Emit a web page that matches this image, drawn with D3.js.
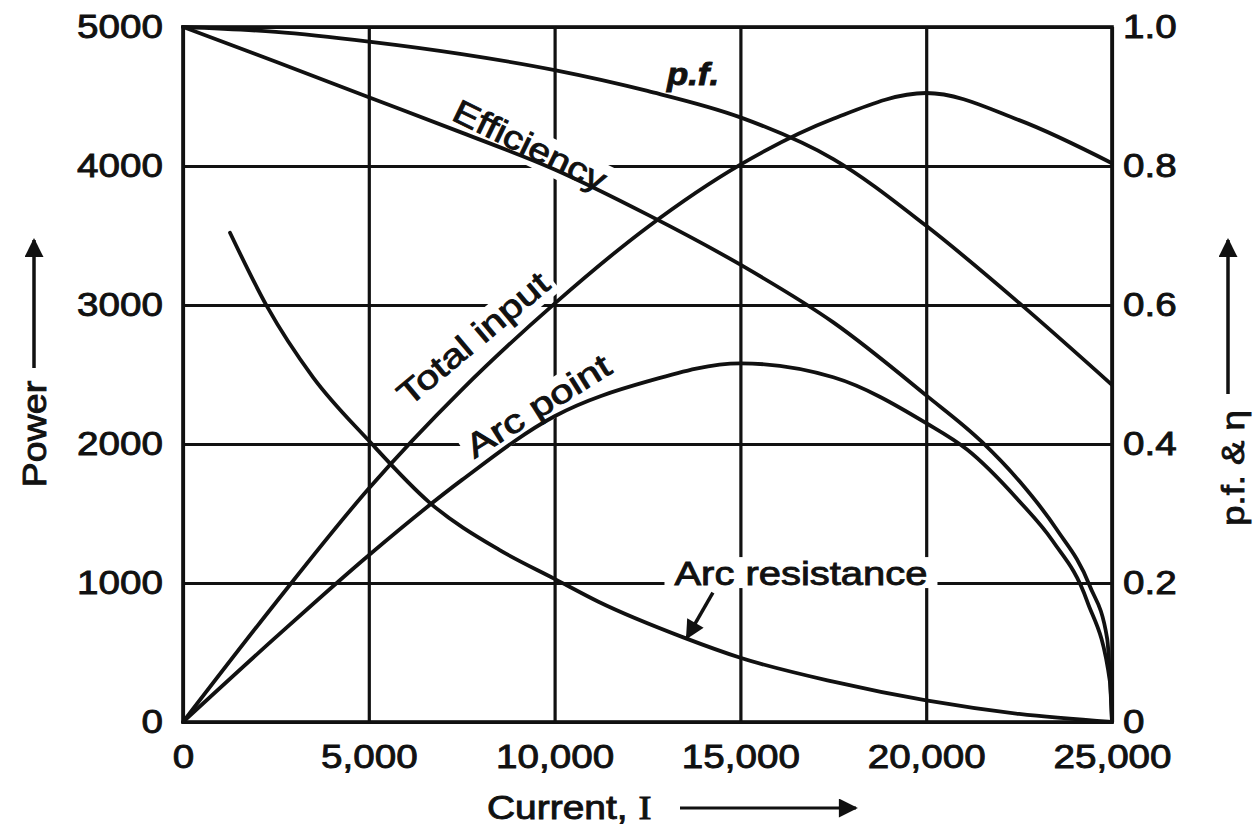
<!DOCTYPE html>
<html><head><meta charset="utf-8">
<script src="https://cdn.jsdelivr.net/npm/d3@7/dist/d3.min.js"></script>
<style>
body{margin:0;background:#fff}
svg text{font-family:"Liberation Sans",Arial,sans-serif;fill:#111;stroke:#111;stroke-width:0.9px}
</style>
</head><body>
<svg id="chart" width="1253" height="831"></svg>
<script>
// ---- data ----
const xTicks = [0, 5000, 10000, 15000, 20000, 25000];
const xTickLabels = ["0", "5,000", "10,000", "15,000", "20,000", "25,000"];
const yTicks = [0, 1000, 2000, 3000, 4000, 5000];
const yTickLabels = ["0", "1000", "2000", "3000", "4000", "5000"];
const y2Ticks = [0, 0.2, 0.4, 0.6, 0.8, 1.0];
const y2TickLabels = ["0", "0.2", "0.4", "0.6", "0.8", "1.0"];

// p.f. (right axis)
const pfCurrent = [0, 2500, 5000, 7500, 10000, 12500, 15000, 17500, 20000, 22500, 25000];
const pfValues  = [1.0, 0.993, 0.979, 0.961, 0.938, 0.908, 0.870, 0.810, 0.714, 0.603, 0.485];

// Efficiency (right axis)
const effCurrent = [0, 2500, 5000, 7500, 10000, 12500, 15000, 17500, 20000, 21500, 22500, 23500, 24400, 24870, 25000];
const effValues  = [1.0, 0.95, 0.899, 0.848, 0.795, 0.73, 0.658, 0.575, 0.47, 0.403, 0.347, 0.278, 0.196, 0.12, 0.0];

// Total input (left axis, power)
const tiCurrent = [0, 2500, 5000, 7500, 10000, 12500, 15000, 17500, 20000, 22500, 25000];
const tiValues  = [0, 860, 1680, 2390, 3010, 3560, 4010, 4340, 4525, 4330, 4020];

// Arc point (left axis, power)
const apCurrent = [0, 2500, 5000, 7500, 10000, 12500, 15000, 17500, 20000, 21100, 22500, 23410, 24330, 24950, 25000];
const apValues  = [0, 610, 1200, 1740, 2200, 2450, 2580, 2480, 2150, 1960, 1590, 1300, 870, 280, 0];

// Arc resistance (plotted on left scale)
const arCurrent = [1265, 2260, 3500, 4980, 6650, 8500, 10000, 11180, 13480, 15000, 17500, 20000, 22500, 25000];
const arValues  = [3520, 2990, 2480, 2030, 1575, 1240, 1030, 865, 607, 462, 290, 155, 58, 0];

// ---- chart ----
const svg = d3.select("#chart");
const pL = 183, pR = 1112, pT = 27, pB = 722;
const x = d3.scaleLinear().domain([0, 25000]).range([pL, pR]);
const y = d3.scaleLinear().domain([0, 5000]).range([pB, pT]);
const y2 = d3.scaleLinear().domain([0, 1]).range([pB, pT]);
const STRETCH = 1.17;
const ink = "#111";

function stretch(sel, f) {
  sel.each(function () {
    const L = this.getComputedTextLength();
    d3.select(this).attr("textLength", L * (f || STRETCH)).attr("lengthAdjust", "spacingAndGlyphs");
  });
}

svg.append("rect").attr("width", 1253).attr("height", 831).attr("fill", "#fff");

const gridLayer = svg.append("g");
const bgLayer = svg.append("g");
const curveLayer = svg.append("g");
const textLayer = svg.append("g");

// axes with gridlines
const gx = gridLayer.append("g").attr("transform", `translate(0,${pB})`)
  .call(d3.axisBottom(x).tickValues(xTicks).tickFormat((d, i) => xTickLabels[i])
    .tickSizeInner(-(pB - pT)).tickSizeOuter(0).tickPadding(23));
const gy = gridLayer.append("g").attr("transform", `translate(${pL},0)`)
  .call(d3.axisLeft(y).tickValues(yTicks).tickFormat((d, i) => yTickLabels[i])
    .tickSizeInner(-(pR - pL)).tickSizeOuter(0).tickPadding(20));
const gy2 = gridLayer.append("g").attr("transform", `translate(${pR},0)`)
  .call(d3.axisRight(y2).tickValues(y2Ticks).tickFormat((d, i) => y2TickLabels[i])
    .tickSizeInner(0).tickSizeOuter(0).tickPadding(11));

[gx, gy, gy2].forEach(g => {
  g.select(".domain").remove();
  g.selectAll(".tick line").attr("stroke", ink).attr("stroke-width", 3.2);
  g.selectAll(".tick text").attr("font-size", 33).attr("fill", ink)
    .style("font-family", '"Liberation Sans", Arial, sans-serif');
  stretch(g.selectAll(".tick text"));
});

gridLayer.append("rect").attr("x", pL).attr("y", pT)
  .attr("width", pR - pL).attr("height", pB - pT)
  .attr("fill", "none").attr("stroke", ink).attr("stroke-width", 3.6);

// curves
const lineP = d3.line().x(d => x(d[0])).y(d => y(d[1])).curve(d3.curveMonotoneX);
const lineR = d3.line().x(d => x(d[0])).y(d => y2(d[1])).curve(d3.curveMonotoneX);
const zip = (a, b) => a.map((v, i) => [v, b[i]]);

const curves = [
  { d: lineR(zip(pfCurrent, pfValues)) },
  { d: lineR(zip(effCurrent, effValues)) },
  { d: lineP(zip(tiCurrent, tiValues)) },
  { d: lineP(zip(apCurrent, apValues)) },
  { d: lineP(zip(arCurrent, arValues)) }
];
curveLayer.selectAll("path.curve").data(curves).join("path")
  .attr("class", "curve").attr("d", d => d.d)
  .attr("fill", "none").attr("stroke", ink).attr("stroke-width", 3.8)
  .attr("stroke-linejoin", "round").attr("stroke-linecap", "round");

// in-plot labels (positions in data units)
const labels = [
  { text: "Efficiency", cx: 9338, cy: 4150, rot: 26, f: 1.18 },
  { text: "Total input", cx: 7804, cy: 2760, rot: -40, f: 1.24 },
  { text: "Arc point", cx: 9553, cy: 2275, rot: -32, f: 1.26 },
];
labels.forEach(l => {
  const tr = `translate(${x(l.cx)},${y(l.cy)}) rotate(${l.rot})`;
  const g = textLayer.append("g").attr("transform", tr);
  const t = g.append("text").attr("text-anchor", "middle").attr("dy", "0.35em")
    .attr("font-size", 33).text(l.text);
  stretch(t, l.f);
  const bb = t.node().getBBox();
  bgLayer.append("g").attr("transform", tr).append("rect")
    .attr("x", bb.x - 5).attr("y", bb.y + 2).attr("width", bb.width + 10).attr("height", bb.height - 1)
    .attr("fill", "#fff");
});

// p.f. label
{
  const t = textLayer.append("text").attr("x", x(13725)).attr("y", y(4580))
    .attr("text-anchor", "middle").attr("font-size", 31)
    .attr("font-style", "italic").attr("font-weight", "bold").text("p.f.");
  stretch(t, 1.12);
}

// Arc resistance label
{
  const t = textLayer.append("text").attr("x", x(16630)).attr("y", y(985))
    .attr("text-anchor", "middle").attr("font-size", 33).text("Arc resistance");
  stretch(t, 1.21);
  const bb = t.node().getBBox();
  bgLayer.append("rect").attr("x", bb.x - 10).attr("y", bb.y + 2)
    .attr("width", bb.width + 20).attr("height", bb.height - 6).attr("fill", "#fff");
}

const defs = svg.append("defs");
defs.append("marker").attr("id", "ah").attr("viewBox", "0 0 10 10")
  .attr("refX", 9).attr("refY", 5)
  .attr("markerUnits", "userSpaceOnUse").attr("orient", "auto")
  .attr("markerWidth", 24).attr("markerHeight", 19)
  .append("path").attr("d", "M0,0 L10,5 L0,10 Z").attr("fill", ink);

// arrow pointing at arc resistance curve
textLayer.append("line")
  .attr("x1", x(14260)).attr("y1", y(930)).attr("x2", x(13560)).attr("y2", y(605))
  .attr("stroke", ink).attr("stroke-width", 3.5).attr("marker-end", "url(#ah)");

// axis titles
{
  const t = textLayer.append("text").attr("x", 487).attr("y", 819)
    .attr("font-size", 33).attr("text-anchor", "start");
  t.append("tspan").text("Current, ");
  t.append("tspan").style("font-family", '"Liberation Serif", serif').text("I");
  stretch(t, 1.18);
  textLayer.append("line").attr("x1", 680).attr("y1", 808).attr("x2", 856).attr("y2", 808)
    .attr("stroke", ink).attr("stroke-width", 3).attr("marker-end", "url(#ah)");
}
{
  const t = textLayer.append("text").attr("transform", "translate(46,434) rotate(-90)")
    .attr("text-anchor", "middle").attr("font-size", 33).text("Power");
  stretch(t, 1.14);
  textLayer.append("line").attr("x1", 34).attr("y1", 368).attr("x2", 34).attr("y2", 240)
    .attr("stroke", ink).attr("stroke-width", 3.5).attr("marker-end", "url(#ah)");
}
{
  const t = textLayer.append("text").attr("transform", "translate(1244,468) rotate(-90)")
    .attr("text-anchor", "middle").attr("font-size", 32).text("p.f. & η");
  stretch(t, 1.14);
  textLayer.append("line").attr("x1", 1228).attr("y1", 394).attr("x2", 1228).attr("y2", 240)
    .attr("stroke", ink).attr("stroke-width", 3.5).attr("marker-end", "url(#ah)");
}
</script>
</body></html>
